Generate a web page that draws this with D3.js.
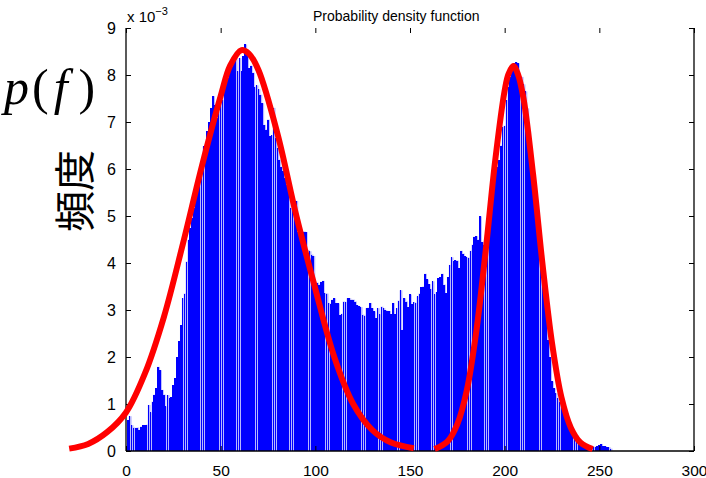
<!DOCTYPE html>
<html>
<head>
<meta charset="utf-8">
<script src="https://cdn.jsdelivr.net/npm/d3@7/dist/d3.min.js"></script>
<style>
  html, body { margin: 0; padding: 0; background: #fff; }
  svg { display: block; }
</style>
</head>
<body>
<svg id="chart" width="706" height="478"></svg>
<script>
// ---------------- DATA ----------------
// histogram of grey levels 0..255 (probability density, units of 1e-3)
const binValues = [
  0.66,0.74,0.55,0.50,0.48,0.50,0.45,0.52,0.55,0.55,
  0.56,0.98,0.82,1.05,1.20,1.33,1.79,1.72,1.30,1.20,
  0.95,1.19,1.12,1.15,1.40,1.55,2.00,2.33,2.68,3.25,
  3.35,4.03,4.50,4.75,4.96,5.17,5.45,5.67,5.88,6.16,
  6.48,6.52,6.80,7.00,7.30,7.55,7.37,7.08,7.22,7.58,
  7.47,7.65,7.80,7.94,8.08,8.18,8.29,8.36,8.08,8.36,
  8.08,8.40,8.65,8.50,8.15,8.20,8.05,7.75,7.78,7.70,
  7.58,7.40,6.94,6.84,7.05,6.70,6.72,7.30,6.65,6.45,
  6.20,6.05,5.95,5.80,5.67,5.55,5.17,5.13,5.30,5.32,
  4.67,4.70,4.65,4.67,4.66,4.28,4.25,4.18,4.15,3.60,
  3.58,3.54,3.60,3.62,3.36,3.35,3.15,3.12,3.22,3.25,
  3.15,3.14,2.90,2.92,3.18,3.17,3.25,3.25,3.22,3.22,
  3.18,3.10,3.08,3.06,2.90,2.88,3.04,3.05,3.15,3.04,
  2.97,2.82,3.04,2.91,3.07,3.04,3.00,2.98,2.98,2.91,
  3.15,2.91,3.04,3.20,3.42,2.58,3.25,3.18,3.06,3.33,
  3.13,3.17,3.15,3.29,3.35,3.48,3.50,3.77,3.65,3.55,
  3.45,3.61,3.33,3.38,3.68,3.70,3.77,3.54,3.36,3.70,
  3.96,4.12,4.04,4.06,4.05,3.89,4.26,4.20,4.14,4.12,
  4.11,4.26,4.39,4.56,4.57,4.50,4.99,4.45,4.38,4.60,
  4.94,5.07,5.41,5.60,5.85,6.05,6.19,6.50,6.90,6.92,
  7.47,7.75,7.96,8.14,8.25,8.27,8.25,7.96,7.96,7.80,
  7.65,7.29,6.80,6.16,5.90,5.66,5.20,4.74,4.30,3.85,
  3.57,3.04,2.36,2.00,1.48,1.33,1.23,1.12,1.05,0.91,
  0.87,0.74,0.70,0.59,0.48,0.42,0.38,0.34,0.27,0.20,
  0.16,0.15,0.13,0.10,0.10,0.09,0.09,0.09,0.10,0.13,
  0.15,0.10,0.10,0.08,0.08,0.05
];

// red model curves (grey level, density in 1e-3)
const curve1X = [-30, -20, -10, 0, 10, 20, 30, 40, 50, 55, 61, 65, 70, 80, 90, 100, 110, 120, 130, 140, 152];
const curve1Y = [0.05, 0.15, 0.40, 0.82, 1.65, 2.85, 4.40, 6.05, 7.55, 8.20, 8.53, 8.45, 8.10, 6.75, 5.00, 3.45, 2.00, 1.00, 0.45, 0.18, 0.06];
const curve2X = [163, 170, 175, 180, 185, 190, 195, 200, 202, 204.6, 207, 210, 215, 220, 225, 230, 235, 240, 246.5];
const curve2Y = [0.04, 0.21, 0.57, 1.29, 2.54, 4.27, 6.18, 7.67, 8.02, 8.19, 8.02, 7.49, 5.89, 3.97, 2.30, 1.14, 0.49, 0.18, 0.04];

const xTicks = [0, 50, 100, 150, 200, 250, 300];
const yTicks = [0, 1, 2, 3, 4, 5, 6, 7, 8, 9];
const titleText = "Probability density function";
const yLabelMath = ["p", "(", "f", ")"];
const yLabelJa = "頻度";

// ---------------- DRAW ----------------
(function () {
const svg = d3.select("#chart");
const x = d3.scaleLinear().domain([0, 300]).range([126, 694]);
const y = d3.scaleLinear().domain([0, 9]).range([451, 28]);
const font = "'Liberation Sans', Arial, sans-serif";

// bars: light under-layer (shows as thin light seams) + blue bars
const underG = svg.append("g");
underG.selectAll("rect")
  .data(binValues)
  .join("rect")
  .attr("x", (d, i) => x(i + 0.5))
  .attr("width", (d, i) => x(i + 1.5) - x(i + 0.5) + 0.9)
  .attr("y", d => y(d))
  .attr("height", d => y(0) - y(d))
  .attr("fill", "#b8b8ff");
const barG = svg.append("g").attr("shape-rendering", "crispEdges");
barG.selectAll("rect")
  .data(binValues)
  .join("rect")
  .attr("x", (d, i) => x(i + 0.5))
  .attr("width", (d, i) => x(i + 1.5) - x(i + 0.5) - 0.3)
  .attr("y", d => y(d))
  .attr("height", d => y(0) - y(d))
  .attr("fill", "#0000ff");

// axes (box style, inward ticks)
const axG = svg.append("g");

const axBottom = d3.axisBottom(x).tickValues(xTicks).tickSize(-5).tickPadding(14).tickFormat(d3.format("d"));
const gB = axG.append("g").attr("transform", `translate(0,${y(0)})`).call(axBottom);
const axLeft = d3.axisLeft(y).tickValues(yTicks).tickSize(-5).tickPadding(10).tickFormat(d3.format("d"));
const gL = axG.append("g").attr("transform", `translate(${x(0)},0)`).call(axLeft);
const axRight = d3.axisRight(y).tickValues(yTicks).tickSize(-5).tickFormat("");
const gR = axG.append("g").attr("transform", `translate(${x(300)},0)`).call(axRight);
const axTop = d3.axisTop(x).tickValues(xTicks).tickSize(-5).tickFormat("");
const gT = axG.append("g").attr("transform", `translate(0,${y(9)})`).call(axTop);
gT.select(".domain").remove();

[gB, gL, gR, gT].forEach(g => {
  g.attr("font-family", font).attr("font-size", 16);
  g.selectAll(".domain").attr("stroke", "#000").attr("stroke-width", 1.3);
  g.selectAll(".tick line").attr("stroke", "#000");
  g.selectAll(".tick text").attr("fill", "#000");
});
gB.selectAll(".domain").attr("d", `M${x(0)},0H${x(300)}`);
gL.selectAll(".domain").attr("d", `M0,${y(0)}V${y(9)}`);
gR.selectAll(".domain").attr("d", `M0,${y(0)}V${y(9)}`);
gB.selectAll(".tick text").attr("font-size", 15.5);

// red curves
const line = d3.line().x(d => x(d[0])).y(d => y(d[1])).curve(d3.curveCatmullRom.alpha(0.5));
[[curve1X, curve1Y], [curve2X, curve2Y]].forEach(([cx, cy]) => {
  svg.append("path")
    .datum(cx.map((v, i) => [v, cy[i]]))
    .attr("d", line)
    .attr("fill", "none")
    .attr("stroke", "#ff0000")
    .attr("stroke-width", 6)
    .attr("stroke-linecap", "butt")
    .attr("stroke-linejoin", "round");
});

// title
svg.append("text")
  .attr("x", 313).attr("y", 21)
  .attr("font-family", font).attr("font-size", 14)
  .attr("fill", "#000")
  .text(titleText);

// exponent label
const ex = svg.append("text")
  .attr("x", 127).attr("y", 22)
  .attr("font-family", font).attr("font-size", 15)
  .attr("fill", "#000");
ex.append("tspan").text("x 10");
ex.append("tspan").attr("dy", -7).attr("font-size", 11).text("−3");

// p(f) math label
const pf = svg.append("text")
  .attr("x", 4).attr("y", 104)
  .attr("font-family", "'Liberation Serif', 'DejaVu Serif', serif")
  .attr("font-size", 50)
  .attr("fill", "#000");
const pfDx = [0, 3, 5, 11];
yLabelMath.forEach((c, i) => {
  pf.append("tspan")
    .attr("font-style", (c === "(" || c === ")") ? "normal" : "italic")
    .attr("dx", pfDx[i])
    .text(c);
});

// Japanese label (rotated)
svg.append("text")
  .attr("transform", "translate(72,191) rotate(-90)")
  .attr("text-anchor", "middle")
  .attr("dominant-baseline", "central")
  .attr("font-family", "'Noto Sans CJK JP', 'Noto Sans CJK SC', sans-serif")
  .attr("font-size", 41)
  .attr("fill", "#000")
  .text(yLabelJa);
})();
</script>
</body>
</html>
